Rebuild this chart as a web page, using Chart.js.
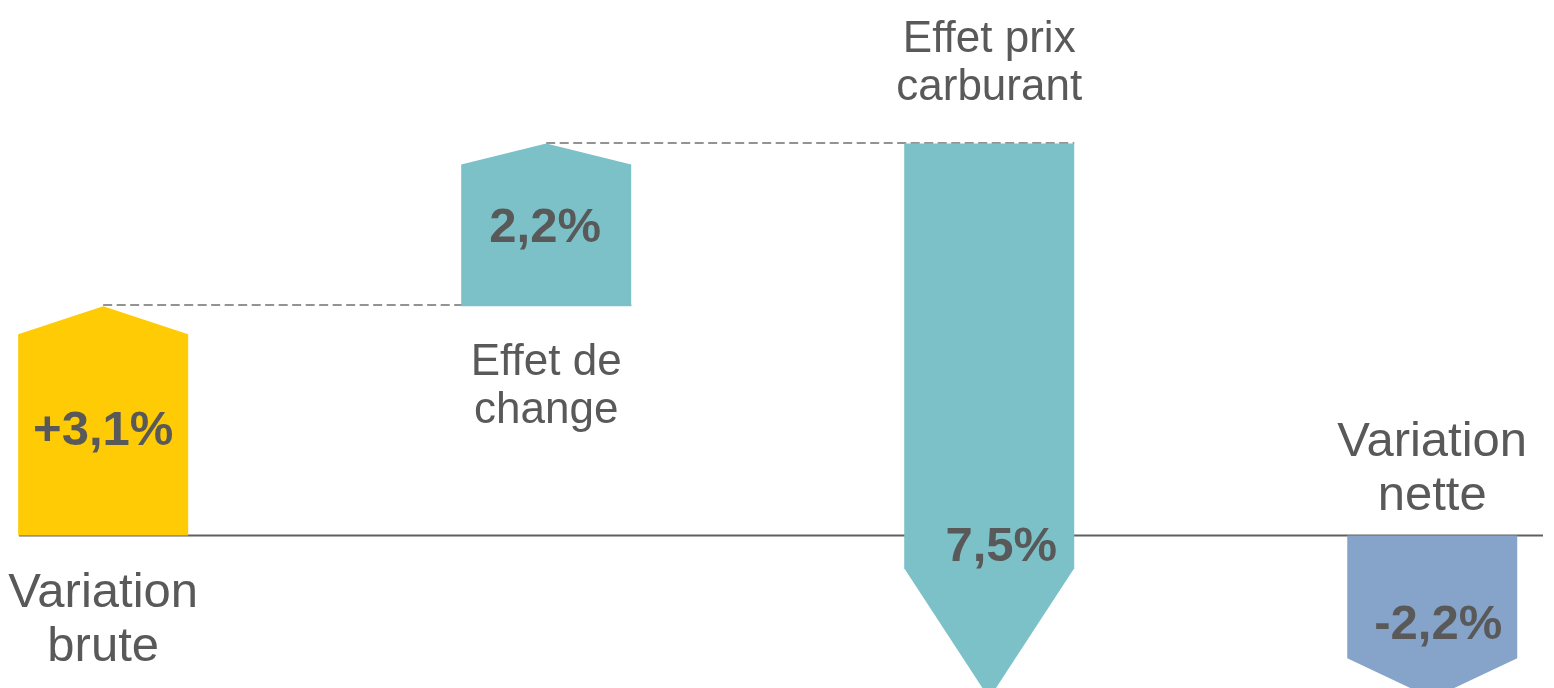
<!DOCTYPE html>
<html lang="fr">
<head>
<meta charset="utf-8">
<title>Variation brute / nette</title>
<script src="https://cdn.jsdelivr.net/npm/chart.js@4.4.1/dist/chart.umd.min.js"></script>
<style>
  html, body { margin: 0; padding: 0; background: #fff; }
  #wrap { width: 1554px; height: 688px; position: relative; }
</style>
</head>
<body>
<div id="wrap"><canvas id="waterfall"></canvas></div>
<script>
// Values (in %)
const categories = [["Variation", "brute"], ["Effet de", "change"], ["Effet prix", "carburant"], ["Variation", "nette"]];
const values = [3.1, 2.2, -7.5, -2.2];
const barKinds = ["total", "delta", "delta", "total"];
const valueLabels = ["+3,1%", "2,2%", "7,5%", "-2,2%"];

// Look of each bar
const barColors = ["#FFCB05", "#7BC1C7", "#7BC1C7", "#86A4C9"];
const headHeights = [28, 21, 130, 40];          // arrow tip, px
const valueLabelPos = [0.47, 0.50, 0.72, 0.53]; // along the bar, from where it starts
const valueLabelShift = [0, -1, 12, 6];
const catFontSizes = [49, 44, 44, 49];
const catGaps = [36, 37, 44, 26];

const TEXT = "#595959";
const FONT = "'Liberation Sans', Arial, sans-serif";

// Floating bars: totals start at 0, deltas start where the previous bar ended
let running = 0;
const floating = values.map((v, i) => {
  const start = barKinds[i] === "total" ? 0 : running;
  const end = start + v;
  running = end;
  return { x: i, y: [start, end] };
});

// Chart.js sorts floating bar ends, so take start/tip pixels from the data itself
function arrowGeom(chart, bar, i) {
  const ys = chart.scales.y;
  return {
    x: bar.x,
    half: bar.width / 2,
    from: ys.getPixelForValue(floating[i].y[0]),
    tip: ys.getPixelForValue(floating[i].y[1])
  };
}

const arrowBars = {
  id: "arrowBars",
  beforeDatasetsDraw(chart) {
    const ctx = chart.ctx;
    const area = chart.chartArea;
    const y0 = chart.scales.y.getPixelForValue(0);
    const bars = chart.getDatasetMeta(0).data;
    ctx.save();
    // zero line
    ctx.strokeStyle = "#606060";
    ctx.lineWidth = 2;
    ctx.beginPath();
    ctx.moveTo(area.left, y0);
    ctx.lineTo(area.right, y0);
    ctx.stroke();
    // dashed connectors into the next delta bar
    ctx.strokeStyle = "#939393";
    ctx.setLineDash([9, 4.5]);
    for (let i = 0; i < bars.length - 1; i++) {
      if (barKinds[i + 1] !== "delta") continue;
      const a = arrowGeom(chart, bars[i], i);
      const b = arrowGeom(chart, bars[i + 1], i + 1);
      const yy = Math.round(a.tip) - 1;
      ctx.beginPath();
      ctx.moveTo(a.x, yy);
      ctx.lineTo(b.x + b.half, yy);
      ctx.stroke();
    }
    ctx.restore();
  },
  beforeDatasetDraw(chart, args) {
    // arrows instead of plain rectangles
    const ctx = chart.ctx;
    ctx.save();
    args.meta.data.forEach((bar, i) => {
      const g = arrowGeom(chart, bar, i);
      const dir = g.tip < g.from ? 1 : -1;
      const shoulder = g.tip + dir * headHeights[i];
      ctx.fillStyle = barColors[i];
      ctx.beginPath();
      ctx.moveTo(g.x - g.half, g.from);
      ctx.lineTo(g.x - g.half, shoulder);
      ctx.lineTo(g.x, g.tip);
      ctx.lineTo(g.x + g.half, shoulder);
      ctx.lineTo(g.x + g.half, g.from);
      ctx.closePath();
      ctx.fill();
    });
    ctx.restore();
    return false;
  },
  afterDatasetsDraw(chart) {
    const ctx = chart.ctx;
    const bars = chart.getDatasetMeta(0).data;
    ctx.save();
    ctx.fillStyle = TEXT;
    ctx.textAlign = "center";
    ctx.textBaseline = "alphabetic";
    bars.forEach((bar, i) => {
      const g = arrowGeom(chart, bar, i);
      // value inside the arrow
      ctx.font = "bold 49px " + FONT;
      const cy = g.from + valueLabelPos[i] * (g.tip - g.from);
      ctx.fillText(valueLabels[i], g.x + valueLabelShift[i], cy + 49 * 0.358);

      // category name beyond the start of the arrow
      const size = catFontSizes[i];
      const lh = Math.round(size * 1.1);
      const lines = categories[i];
      ctx.font = size + "px " + FONT;
      let yy;
      if (g.tip < g.from) {
        yy = g.from + catGaps[i] + size * 0.716;
      } else {
        yy = g.from - catGaps[i] - (lines.length - 1) * lh;
      }
      lines.forEach(t => { ctx.fillText(t, g.x, yy); yy += lh; });
    });
    ctx.restore();
  }
};

new Chart(document.getElementById("waterfall"), {
  type: "bar",
  data: {
    datasets: [{
      data: floating,
      backgroundColor: barColors,
      barThickness: 170
    }]
  },
  options: {
    responsive: true,
    maintainAspectRatio: false,
    animation: false,
    layout: { padding: { left: 19, right: 11, top: 0, bottom: 0 } },
    scales: {
      x: { type: "linear", display: false, offset: false, min: -0.19, max: 3.25 },
      y: { display: false, min: -2.06, max: 7.24 }
    },
    plugins: {
      legend: { display: false },
      tooltip: { enabled: false }
    }
  },
  plugins: [arrowBars]
});
</script>
</body>
</html>
